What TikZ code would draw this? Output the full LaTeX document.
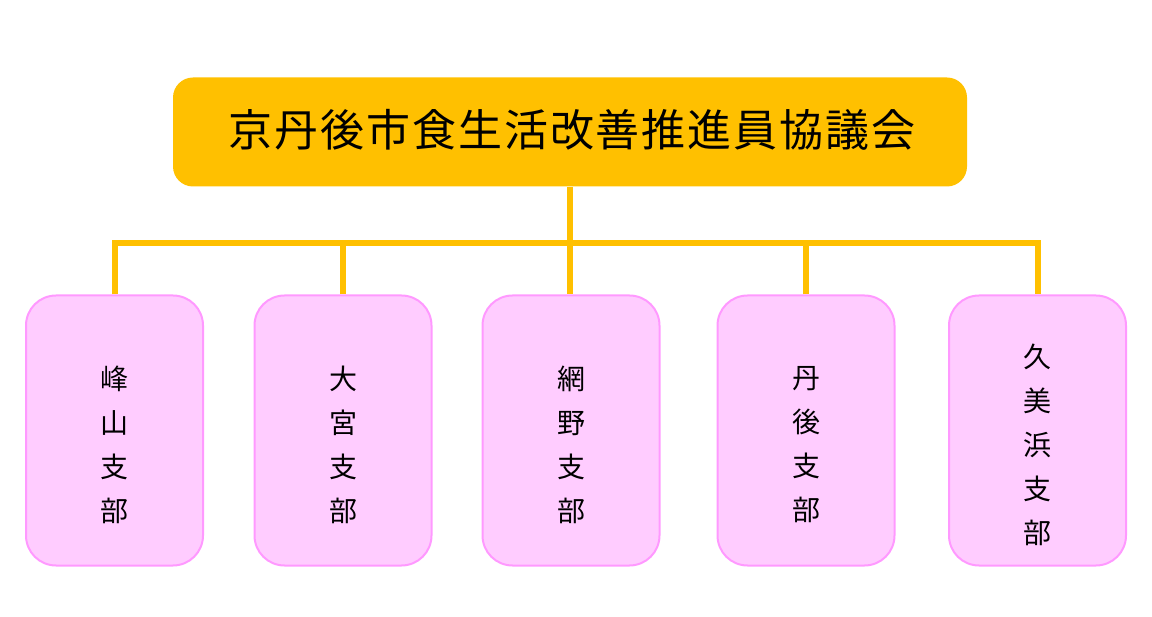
\documentclass[tikz,border=0pt]{standalone}
\usepackage{fontspec}
\newfontfamily\jp{Noto Sans CJK JP}
\newfontfamily\jpwide[LetterSpace=4.5]{Noto Sans CJK JP}
\definecolor{gold}{HTML}{FFC000}
\definecolor{pinkfill}{HTML}{FFCCFF}
\definecolor{pinkline}{HTML}{FF99FF}
\tikzset{
  topbox/.style={rounded corners=20pt, fill=gold, draw=none, minimum width=794pt, minimum height=109pt, inner sep=0pt},
  branchbox/.style={rounded corners=30pt, fill=pinkfill, draw=pinkline, line width=2pt, minimum width=177pt, minimum height=270pt, inner sep=0pt},
  branchtext/.style={font=\jp\fontsize{28}{44}\selectfont, align=center, inner sep=0pt},
  conn/.style={draw=gold, line width=6pt}
}
\begin{document}
\begin{tikzpicture}[x=1pt,y=-1pt]
\useasboundingbox (0,0) rectangle (1152,617);
\node[topbox] (top) at (570,132) {};
\node[font=\jpwide\fontsize{44}{50}\selectfont, inner sep=0pt] (title) at (572,130) {京丹後市食生活改善推進員協議会};
\node[branchbox] (b1) at (114.5,430.5) {};
\node[branchbox] (b2) at (343,430.5) {};
\node[branchbox] (b3) at (571,430.5) {};
\node[branchbox] (b4) at (806,430.5) {};
\node[branchbox] (b5) at (1037.5,430.5) {};
\node[branchtext] (t1) at (114.5,445) {峰\\山\\支\\部};
\node[branchtext] (t2) at (343,445) {大\\宮\\支\\部};
\node[branchtext] (t3) at (571,445) {網\\野\\支\\部};
\node[branchtext] (t4) at (806,445) {丹\\後\\支\\部};
\node[branchtext] (t5) at (1037.5,445) {久\\美\\浜\\支\\部};
\coordinate (jn) at (570,243);
\draw[conn] (top.south -| jn) -- (b3.north -| jn);
\draw[conn] (b1.north) -- (b1.north |- jn) -- (b5.north |- jn) -- (b5.north);
\draw[conn] (b2.north) -- (b2.north |- jn);
\draw[conn] (b4.north) -- (b4.north |- jn);
\end{tikzpicture}
\end{document}
